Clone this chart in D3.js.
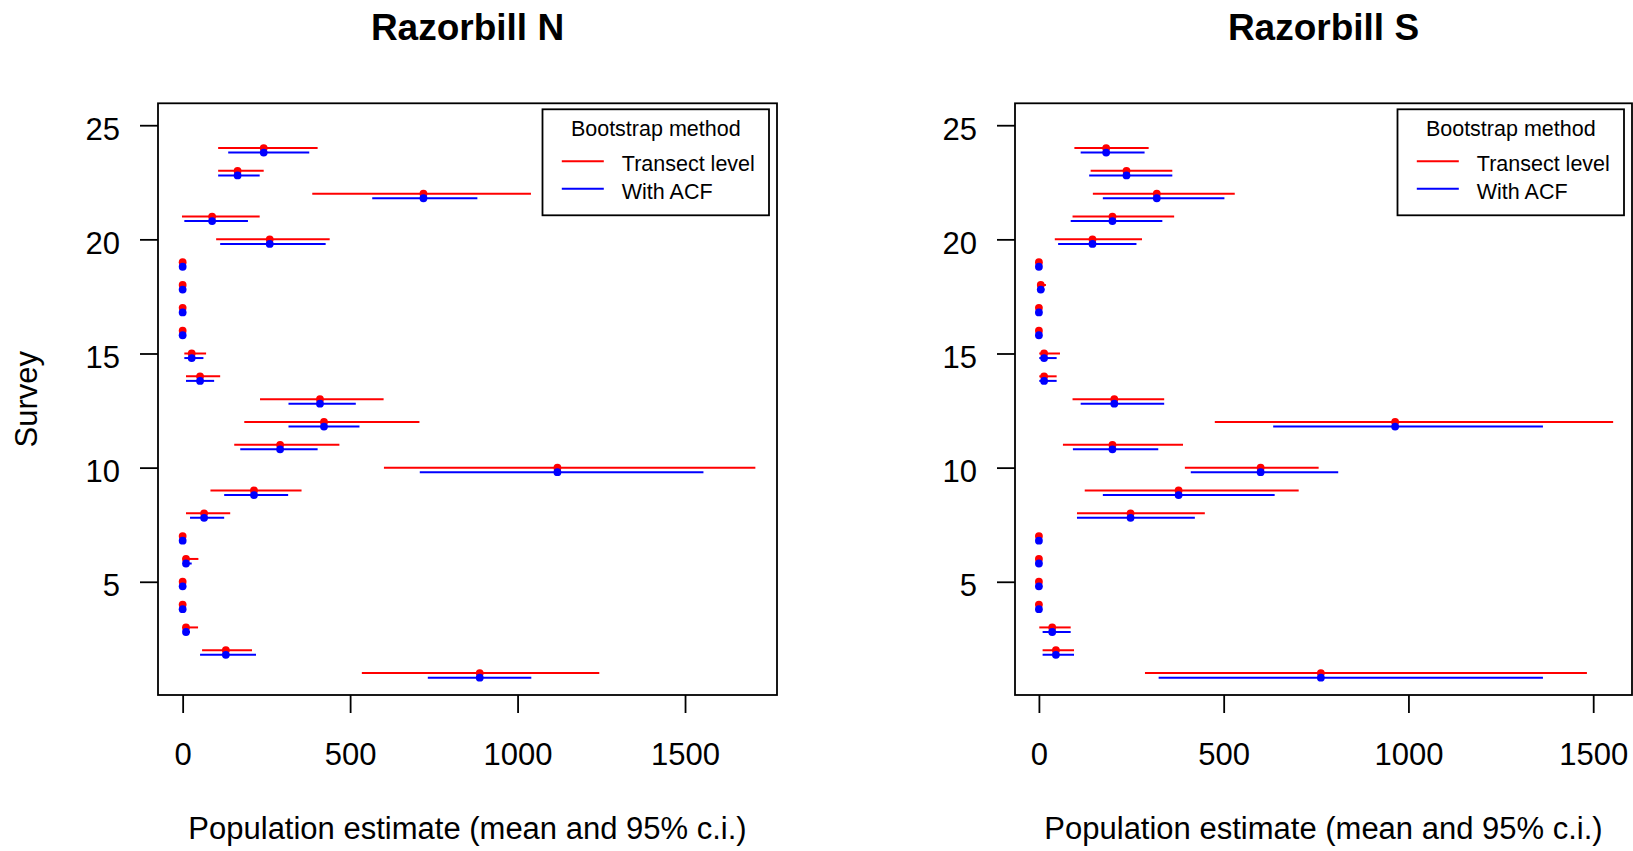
<!DOCTYPE html>
<html><head><meta charset="utf-8">
<script src="https://cdn.jsdelivr.net/npm/d3@7"></script>
<style>body{margin:0;background:#fff}svg{display:block}text{font-family:"Liberation Sans",Arial,sans-serif;fill:#000}</style>
</head><body><svg id="c" width="1633" height="851"></svg>
<script>
const surveys = [1,2,3,4,5,6,7,8,9,10,11,12,13,14,15,16,17,18,19,20,21,22,23,24];

// Razorbill N
const nMean    = [887,129,10,0,0,10,0,64,213,1119,291,422,410,52,27,0,0,0,0,260,88,719,164,242];
const nTransLo = [535,58,0,0,0,0,0,10,83,601,154,184,231,10,5,0,0,0,0,100,-2,387,106,106];
const nTransHi = [1244,207,46,0,0,47,0,142,355,1710,468,707,600,112,70,0,0,0,0,439,230,1040,242,403];
const nAcfLo   = [732,52,1,0,0,1,0,22,124,708,172,316,316,10,5,0,0,0,0,112,5,566,106,136];
const nAcfHi   = [1041,219,22,0,0,27,0,124,315,1555,403,528,517,94,62,0,0,0,0,427,195,880,230,378];

// Razorbill S
const sMean    = [763,46,36,0,0,0,0,248,378,600,199,964,204,14,14,0,0,5,0,145,199,319,237,182];
const sTransLo = [287,10,1,0,0,0,0,103,124,395,65,476,91,1,1,0,0,0,0,43,91,146,140,96];
const sTransHi = [1483,95,86,0,0,0,0,449,703,757,390,1554,339,48,57,0,0,19,0,279,366,530,361,297];
const sAcfLo   = [324,10,10,0,0,0,0,103,173,411,92,634,113,1,1,0,0,0,0,52,86,173,136,113];
const sAcfHi   = [1364,95,86,0,0,0,0,422,638,810,323,1364,339,48,48,0,0,15,0,264,334,502,361,286];

const xTickValues = [0,500,1000,1500];
const yTickValues = [5,10,15,20,25];
const seriesNames = ["Transect level","With ACF"];
const seriesColors = ["#ff0000","#0000ff"];
const panelTitles = ["Razorbill N","Razorbill S"];
const legendTitle = "Bootstrap method";
const xLabel = "Population estimate (mean and 95% c.i.)";
const yLabel = "Survey";

const svg = d3.select("#c");
svg.append("rect").attr("width",1633).attr("height",851).attr("fill","#fff");

function panel(cfg){
  const x = d3.scaleLinear().domain(cfg.xDomain).range([cfg.left, cfg.right]);
  const y = d3.scaleLinear().domain([0.04, 25.96]).range([cfg.bottom, cfg.top]);
  const g = svg.append("g");
  const cx = (cfg.left + cfg.right) / 2;

  g.append("text").attr("x", cx).attr("y", 40).attr("text-anchor","middle")
    .attr("font-size", 37).attr("font-weight","bold").text(cfg.title);

  const series = [
    {lo: cfg.tLo, hi: cfg.tHi, off: 0, color: seriesColors[0]},
    {lo: cfg.aLo, hi: cfg.aHi, off: -0.2, color: seriesColors[1]}
  ];
  series.forEach(s => {
    g.append("g").selectAll("line").data(surveys).enter().append("line")
      .attr("x1", (d,i) => x(s.lo[i])).attr("x2", (d,i) => x(s.hi[i]))
      .attr("y1", d => y(d + s.off)).attr("y2", d => y(d + s.off))
      .attr("stroke", s.color).attr("stroke-width", 2);
    g.append("g").selectAll("circle").data(surveys).enter().append("circle")
      .attr("cx", (d,i) => x(cfg.mean[i])).attr("cy", d => y(d + s.off))
      .attr("r", 3.9).attr("fill", s.color);
  });

  // box
  g.append("rect").attr("x", cfg.left).attr("y", cfg.top)
    .attr("width", cfg.right - cfg.left).attr("height", cfg.bottom - cfg.top)
    .attr("fill","none").attr("stroke","#000").attr("stroke-width",1.8);

  // x axis
  const xa = g.append("g").attr("transform", `translate(0,${cfg.bottom})`)
    .call(d3.axisBottom(x).tickValues(xTickValues).tickSize(18).tickSizeOuter(0).tickFormat(d3.format("d")));
  xa.select(".domain").remove();
  xa.selectAll(".tick line").attr("stroke","#000").attr("stroke-width",1.8);
  xa.selectAll("text").attr("y", 70).attr("dy", 0).attr("font-size", 31)
    .attr("font-family",'"Liberation Sans",Arial,sans-serif').attr("fill","#000");

  // y axis
  const ya = g.append("g").attr("transform", `translate(${cfg.left},0)`)
    .call(d3.axisLeft(y).tickValues(yTickValues).tickSize(18).tickSizeOuter(0).tickFormat(d3.format("d")));
  ya.select(".domain").remove();
  ya.selectAll(".tick line").attr("stroke","#000").attr("stroke-width",1.8);
  ya.selectAll("text").attr("x", -38).attr("dy", 14).attr("font-size", 31)
    .attr("font-family",'"Liberation Sans",Arial,sans-serif').attr("fill","#000");

  g.append("text").attr("x", cx).attr("y", 839).attr("text-anchor","middle")
    .attr("font-size", 31).text(xLabel);

  if (cfg.showYLabel) {
    const yc = (cfg.top + cfg.bottom) / 2;
    g.append("text").attr("transform", `translate(37,${yc}) rotate(-90)`)
      .attr("text-anchor","middle").attr("font-size", 31).text(yLabel);
  }

  // legend
  const lw = 226.5, lh = 106;
  const L = cfg.right - 8 - lw, T = cfg.top + 6;
  const lg = g.append("g");
  lg.append("rect").attr("x", L).attr("y", T).attr("width", lw).attr("height", lh)
    .attr("fill","#fff").attr("stroke","#000").attr("stroke-width",1.8);
  lg.append("text").attr("x", L + lw/2).attr("y", T + 26.5).attr("text-anchor","middle")
    .attr("font-size", 21.5).text(legendTitle);
  const itemY = [52, 79.5];
  seriesNames.forEach((nm, i) => {
    lg.append("line").attr("x1", L + 19.3).attr("x2", L + 61.3)
      .attr("y1", T + itemY[i]).attr("y2", T + itemY[i])
      .attr("stroke", seriesColors[i]).attr("stroke-width", 2);
    lg.append("text").attr("x", L + 79.3).attr("y", T + itemY[i] + 9.7)
      .attr("font-size", 21.5).text(nm);
  });
}

panel({left:158, right:777, top:103.3, bottom:695, xDomain:[-73.6,1774.6],
  title: panelTitles[0], mean:nMean, tLo:nTransLo, tHi:nTransHi, aLo:nAcfLo, aHi:nAcfHi, showYLabel:true});
panel({left:1015, right:1632, top:103.3, bottom:695, xDomain:[-64.7,1605],
  title: panelTitles[1], mean:sMean, tLo:sTransLo, tHi:sTransHi, aLo:sAcfLo, aHi:sAcfHi, showYLabel:false});
</script></body></html>
